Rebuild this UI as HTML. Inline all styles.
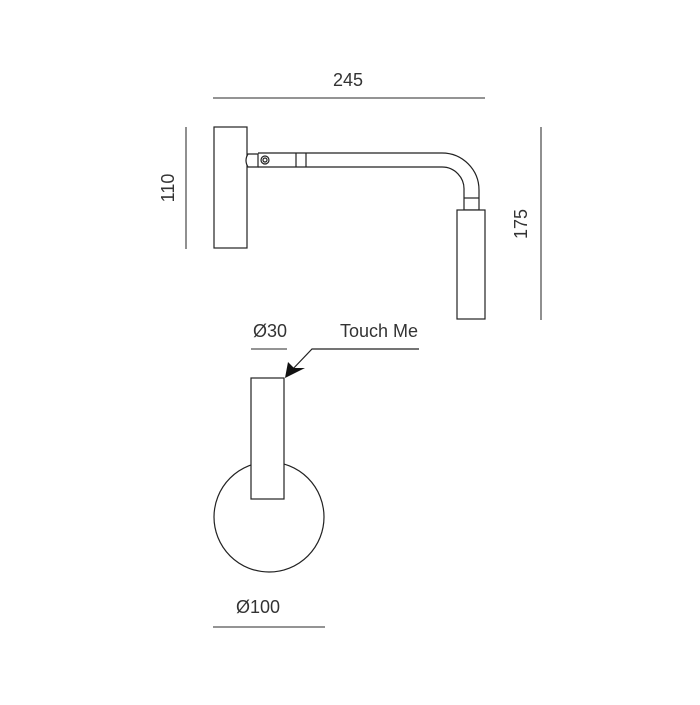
<!DOCTYPE html>
<html><head><style>html,body{margin:0;padding:0;background:#fff;}</style></head>
<body>
<svg width="700" height="700" viewBox="0 0 700 700" xmlns="http://www.w3.org/2000/svg" font-family="Liberation Sans, sans-serif">
<rect width="700" height="700" fill="#fff"/>
<g stroke="#555" stroke-width="1.3" fill="none">
<line x1="213" y1="98" x2="485" y2="98"/>
<line x1="186" y1="127" x2="186" y2="249"/>
<line x1="541" y1="127" x2="541" y2="320"/>
<line x1="251" y1="349" x2="287" y2="349"/>
<line x1="213" y1="627" x2="325" y2="627"/>
</g>
<g fill="#333" font-size="18" text-anchor="middle">
<text x="348" y="86">245</text>
<text transform="translate(174,188) rotate(-90)">110</text>
<text transform="translate(527,224) rotate(-90)">175</text>
<text x="270" y="337">Ø30</text>
<text x="379" y="337">Touch Me</text>
<text x="258" y="613">Ø100</text>
</g>
<g stroke="#222" stroke-width="1.2" fill="#fff">
<rect x="214" y="127" width="33" height="121"/>
<path d="M258 153 L442 153 A37 37 0 0 1 479 190 L479 210 L464 210 L464 190 A22 22 0 0 0 442 167 L258 167"/>
<line x1="464" y1="198" x2="479" y2="198"/>
<line x1="296" y1="153" x2="296" y2="167"/>
<line x1="306" y1="153" x2="306" y2="167"/>
<path d="M248 154 L258 154 L258 167 L248 167 Q244 160.5 248 154Z"/>
<circle cx="265" cy="160" r="4"/>
<circle cx="265" cy="160" r="2"/>
<rect x="457" y="210" width="28" height="109"/>
<circle cx="269" cy="517" r="55"/>
<rect x="251" y="378" width="33" height="121"/>
</g>
<g stroke="#222" stroke-width="1.2" fill="none">
<polyline points="419,349 312,349 290,372"/>
</g>
<polygon points="285,378 288,362 294,368 305,368" fill="#111"/>
</svg>
</body></html>
